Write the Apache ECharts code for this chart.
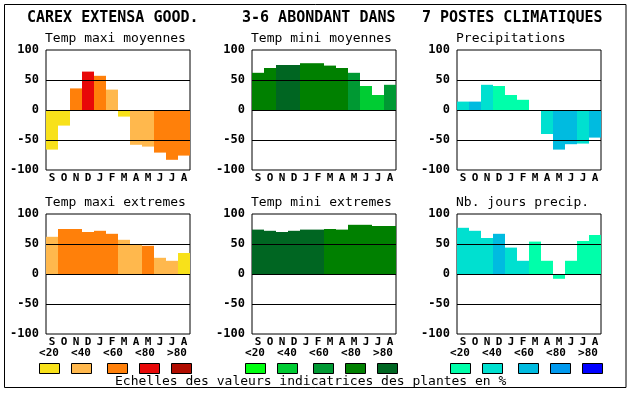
<!DOCTYPE html>
<html><head><meta charset="utf-8">
<script src="https://cdn.jsdelivr.net/npm/echarts@6/dist/echarts.min.js"></script>
<style>html,body{margin:0;padding:0;background:#fff}#c{width:630px;height:394px}</style>
</head><body><div id="c"></div>
<script>
// ---- data ----
const months = ['S','O','N','D','J','F','M','A','M','J','J','A'];
const scaleLabels = ['<20','<40','<60','<80','>80'];
const titles = ['CAREX EXTENSA GOOD.', '3-6 ABONDANT DANS', '7 POSTES CLIMATIQUES'];
const panelNames = ['Temp maxi moyennes','Temp mini moyennes','Precipitations',
                    'Temp maxi extremes','Temp mini extremes','Nb. jours precip.'];
const tmaxMoy    = [-66,-26,36,64,57,34,-11,-58,-61,-71,-83,-76];
const tmaxMoyCls = [0,0,2,3,2,1,0,1,1,2,2,2];
const tminMoy    = [62,70,75,75,78,78,74,70,62,40,25,42];
const tminMoyCls = [3,3,4,4,3,3,3,3,2,1,1,2];
const precip     = [14,14,42,40,25,17,0,-40,-66,-57,-56,-46];
const precipCls  = [1,2,1,0,0,0,0,1,2,2,1,2];
const tmaxExt    = [62,75,75,70,72,67,57,49,47,27,22,35];
const tmaxExtCls = [1,2,2,2,2,2,1,1,2,1,1,0];
const tminExt    = [74,72,70,72,74,74,75,74,82,82,80,80];
const tminExtCls = [4,4,4,4,4,4,3,3,3,3,3,3];
const nbJours    = [77,72,60,67,44,22,54,22,-8,22,55,65];
const nbJoursCls = [1,1,1,2,1,1,0,0,0,0,0,0];

// ---- styles ----
const warm  = ['#F8E11A','#FFB84D','#FF800A','#E80808','#B00C00'];
const green = ['#00FF10','#00CC33','#009933','#008000','#006622'];
const blue  = ['#00FFAA','#00E0D0','#00BBE0','#0099EE','#0000FF'];
const MONO = '"DejaVu Sans Mono", "Liberation Mono", monospace';

const panels = [
  {v:tmaxMoy, c:tmaxMoyCls, pal:warm},
  {v:tminMoy, c:tminMoyCls, pal:green},
  {v:precip,  c:precipCls,  pal:blue},
  {v:tmaxExt, c:tmaxExtCls, pal:warm},
  {v:tminExt, c:tminExtCls, pal:green},
  {v:nbJours, c:nbJoursCls, pal:blue}
];
const colLeft = [46, 252, 457];
const rowTop = [50, 214];
const PW = 144, PH = 120;

const grid = [], xAxis = [], yAxis = [], series = [];
panels.forEach((p, i) => {
  const col = i % 3, row = Math.floor(i / 3);
  grid.push({left: colLeft[col], top: rowTop[row], width: PW, height: PH,
             show: true, borderColor: '#000', borderWidth: 1, backgroundColor: '#fff'});
  xAxis.push({type: 'category', gridIndex: i, data: months,
    axisLine: {show: false}, axisTick: {show: false}, splitLine: {show: false},
    axisLabel: {interval: 0, color: '#000', fontFamily: MONO, fontWeight: 'bold', fontSize: 11, margin: 3}});
  yAxis.push({type: 'value', gridIndex: i, min: -100, max: 100, interval: 50,
    axisLine: {show: false}, axisTick: {show: false}, splitLine: {show: false},
    axisLabel: {color: '#000', fontFamily: MONO, fontWeight: 'bold', fontSize: 12, margin: 7}});
  series.push({type: 'bar', xAxisIndex: i, yAxisIndex: i, barWidth: '100%', barCategoryGap: 0,
    animation: false, silent: true,
    data: p.v.map((v, k) => ({value: v, itemStyle: {color: p.pal[p.c[k]]}})),
    markLine: {silent: true, symbol: 'none', animation: false,
      label: {show: false},
      lineStyle: {color: '#000', width: 1, type: 'solid'},
      data: [{yAxis: 50}, {yAxis: 0}, {yAxis: -50}]}
  });
});

const graphic = [];
graphic.push({type: 'rect', shape: {x: 4.5, y: 4.5, width: 621.5, height: 383},
  style: {fill: 'none', stroke: '#000', lineWidth: 1}, z: 10});
const titleX = [27, 242, 422];
titles.forEach((t, i) => graphic.push({type: 'text', left: titleX[i], top: 11,
  style: {text: t, font: 'bold 15px ' + MONO, fill: '#000'}}));
panelNames.forEach((t, i) => {
  const col = i % 3, row = Math.floor(i / 3);
  graphic.push({type: 'text', left: colLeft[col] - 1, top: row ? 196 : 32,
    style: {text: t, font: '13px ' + MONO, fill: '#000'}});
});
const pals = [warm, green, blue];
const boxOff = [-7, 25, 61, 93, 125];
const lblOff = [3, 35, 67, 99, 131];
for (let col = 0; col < 3; col++) {
  scaleLabels.forEach((s, k) => {
    graphic.push({type: 'text', x: colLeft[col] + lblOff[k], y: 353,
      style: {text: s, font: 'bold 11px ' + MONO, fill: '#000', align: 'center', verticalAlign: 'middle'}});
    graphic.push({type: 'rect', shape: {x: colLeft[col] + boxOff[k] + 0.5, y: 363.5, width: 20, height: 10},
      style: {fill: pals[col][k], stroke: '#000', lineWidth: 1}});
  });
}
graphic.push({type: 'text', left: 115, top: 375,
  style: {text: 'Echelles des valeurs indicatrices des plantes en %', font: '13px ' + MONO, fill: '#000'}});

const chart = echarts.init(document.getElementById('c'), null, {renderer: 'canvas'});
chart.setOption({animation: false, backgroundColor: '#fff', grid, xAxis, yAxis, series, graphic});
</script>
</body></html>
